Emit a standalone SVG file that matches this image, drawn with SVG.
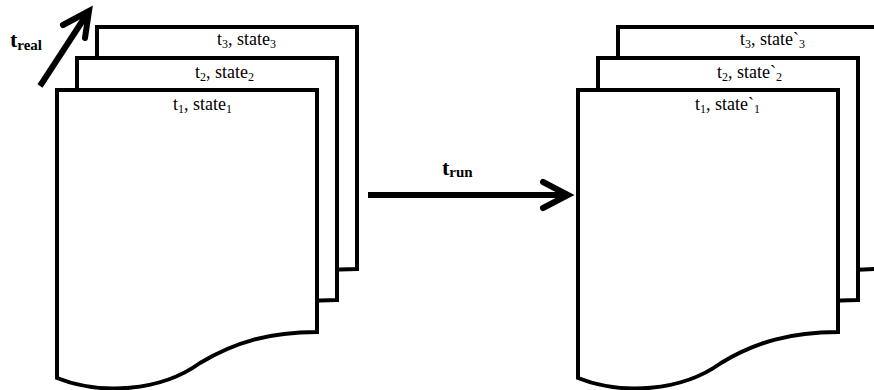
<svg xmlns="http://www.w3.org/2000/svg" width="874" height="390" viewBox="0 0 874 390">
  <defs>
    <style>
      .page { fill: #fff; stroke: #000; stroke-width: 4; stroke-linejoin: miter; }
      .lbl { font-family: "Liberation Serif", "Times New Roman", serif; font-size: 18px; fill: #000; }
      .sub { font-size: 12px; }
      .arrow { fill: none; stroke: #000; stroke-width: 6; stroke-linejoin: miter; }
      .head { fill: none; stroke: #000; stroke-width: 6; stroke-linejoin: miter; stroke-linecap: round; }
      .tlbl { font-family: "Liberation Serif", "Times New Roman", serif; font-weight: bold; fill: #000; }
    </style>
    <path id="doc" d="M57,90 H317 V332 C270,332 235,342 200,363 C160,392 100,395 57,378 Z"/>
  </defs>

  <!-- Left stack -->
  <g id="left-page3">
    <use href="#doc" class="page" transform="translate(40,-63)"/>
    <text class="lbl" x="217" y="45">t<tspan class="sub" dy="3">3</tspan><tspan dy="-3">, state</tspan><tspan class="sub" dy="3">3</tspan></text>
  </g>
  <g id="left-page2">
    <use href="#doc" class="page" transform="translate(20,-32)"/>
    <text class="lbl" x="195" y="78">t<tspan class="sub" dy="3">2</tspan><tspan dy="-3">, state</tspan><tspan class="sub" dy="3">2</tspan></text>
  </g>
  <g id="left-page1">
    <use href="#doc" class="page"/>
    <text class="lbl" x="173" y="110">t<tspan class="sub" dy="3">1</tspan><tspan dy="-3">, state</tspan><tspan class="sub" dy="3">1</tspan></text>
  </g>

  <!-- Right stack -->
  <g id="right-page3">
    <use href="#doc" class="page" transform="translate(561,-63)"/>
    <text class="lbl" x="740" y="45">t<tspan class="sub" dy="3">3</tspan><tspan dy="-3">, state`</tspan><tspan class="sub" dy="3">3</tspan></text>
  </g>
  <g id="right-page2">
    <use href="#doc" class="page" transform="translate(541,-32)"/>
    <text class="lbl" x="717" y="78">t<tspan class="sub" dy="3">2</tspan><tspan dy="-3">, state`</tspan><tspan class="sub" dy="3">2</tspan></text>
  </g>
  <g id="right-page1">
    <use href="#doc" class="page" transform="translate(521,0)"/>
    <text class="lbl" x="695" y="110">t<tspan class="sub" dy="3">1</tspan><tspan dy="-3">, state`</tspan><tspan class="sub" dy="3">1</tspan></text>
  </g>

  <!-- Connectors -->
  <g id="connectors">
    <g id="t-real-arrow">
      <line class="arrow" x1="40" y1="86" x2="87" y2="14"/>
      <polyline class="head" points="63,25 89,11 85,38"/>
      <text class="tlbl" x="10" y="47" font-size="22">t<tspan font-size="15" dy="3">real</tspan></text>
    </g>
    <g id="t-run-arrow">
      <line class="arrow" x1="368" y1="195" x2="566" y2="195"/>
      <polyline class="head" points="543,182 568,195 543,208"/>
      <text class="tlbl" x="442" y="175" font-size="22">t<tspan font-size="15" dy="2">run</tspan></text>
    </g>
  </g>
</svg>
